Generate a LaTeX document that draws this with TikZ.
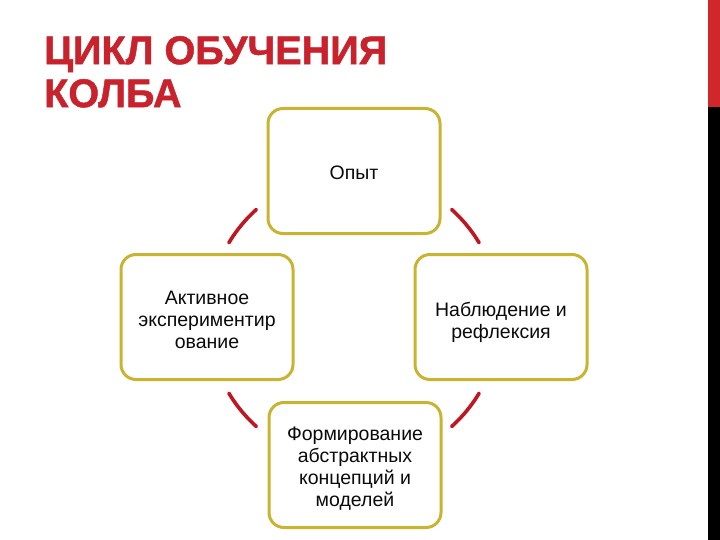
\documentclass[tikz,border=0pt]{standalone}
\usepackage{fontspec}
\usepackage{graphicx}
\setmainfont{Liberation Sans}
\newfontfamily\titlefont[FakeBold=1.2]{Liberation Sans Bold}
\definecolor{titlered}{RGB}{200,34,44}
\definecolor{barred}{RGB}{208,40,42}
\definecolor{boxgold}{RGB}{200,180,48}
\definecolor{arcred}{RGB}{192,22,34}
\definecolor{txt}{RGB}{10,10,10}
\newcommand\stagetext[2]{\raisebox{-#1}[\height][\depth]{\begin{tabular}{@{}c@{}}#2\end{tabular}}}
\tikzset{
  stagebox/.style={draw=boxgold, line width=3pt, rounded corners=15pt, fill=white,
    minimum width=172pt, minimum height=125pt, align=center, text=txt,
    font=\fontsize{19.5}{22}\selectfont, inner sep=2pt},
  cyclearc/.style={draw=arcred, line width=3.6pt, line cap=round},
  titletext/.style={text=titlered, anchor=north west, inner sep=0pt, align=left,
    font=\fontsize{40}{43}\titlefont}
}
\begin{document}
\begin{tikzpicture}[x=1pt,y=-1pt]
\useasboundingbox (0,0) rectangle (720,540);
\fill[white] (0,0) rectangle (720,540);
% side bars
\fill[barred] (708,0) rectangle (720,107);
\fill[black] (708,107) rectangle (720,540);
% title
\node[titletext] (title1) at (44,36) {\scalebox{0.99}[1]{ЦИКЛ ОБУЧЕНИЯ}};
\node[titletext] (title2) at (44,79) {\scalebox{0.99}[1]{КОЛБА}};
% boxes
\node[stagebox] (top) at (354,171) {\stagetext{4pt}{Опыт}};
\node[stagebox] (left) at (207,317) {\stagetext{5pt}{Активное\\экспериментир\\ование}};
\node[stagebox] (right) at (501,317) {\stagetext{6pt}{Наблюдение и\\рефлексия}};
\node[stagebox] (bottom) at (355,465) {\stagetext{4pt}{Формирование\\абстрактных\\концепций и\\моделей}};
% cycle arcs
\coordinate (c) at (354,318);
\draw[cyclearc] ([shift={(c)}]-132:146) arc (-132:-149:146);
\draw[cyclearc] ([shift={(c)}]-31:146) arc (-31:-48:146);
\draw[cyclearc] ([shift={(c)}]-211:146) arc (-211:-228:146);
\draw[cyclearc] ([shift={(c)}]-312:146) arc (-312:-329:146);
\end{tikzpicture}
\end{document}
